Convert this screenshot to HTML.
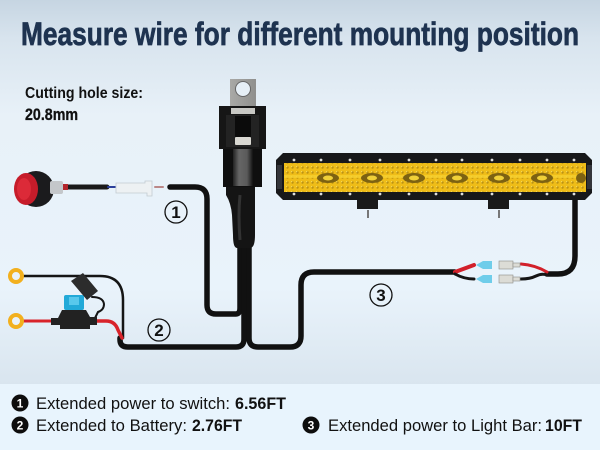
<!DOCTYPE html>
<html><head><meta charset="utf-8"><style>
html,body{margin:0;padding:0;background:#e8f4fd}
svg{display:block}
text{font-family:"Liberation Sans",sans-serif;fill:#111}
</style></head><body>
<svg width="600" height="450" viewBox="0 0 600 450" xmlns="http://www.w3.org/2000/svg">
<defs>
<linearGradient id="bg" x1="0" y1="0" x2="0" y2="1">
<stop offset="0" stop-color="#c6d5e2"/><stop offset=".1" stop-color="#d8e4ee"/><stop offset=".3" stop-color="#e8f1f8"/><stop offset=".75" stop-color="#e9f3fb"/><stop offset="1" stop-color="#d9e5ef"/>
</linearGradient>
<pattern id="dots" width="5" height="5" patternUnits="userSpaceOnUse">
<rect width="5" height="5" fill="#efbd18"/><circle cx="2.5" cy="2.500" r="1.200" fill="#b98f12"/><circle cx="1.700" cy="1.700" r=".6" fill="#fbe46a"/>
</pattern>
<linearGradient id="tab" x1="0" y1="0" x2="1" y2="0"><stop offset="0" stop-color="#a9a9a6"/><stop offset="1" stop-color="#8f8f8d"/></linearGradient>
<linearGradient id="core" x1="0" y1="0" x2="1" y2="0"><stop offset="0" stop-color="#222"/><stop offset=".3" stop-color="#666"/><stop offset=".7" stop-color="#5a5a5a"/><stop offset="1" stop-color="#111"/></linearGradient>
</defs>
<rect width="600" height="385" fill="url(#bg)"/>
<rect y="384" width="600" height="66" fill="#e8f4fd"/>

<text x="21" y="45" font-size="32" font-weight="700" textLength="558" lengthAdjust="spacingAndGlyphs" style="fill:#1e3350;stroke:#1e3350;stroke-width:.7">Measure wire for different mounting position</text>
<text x="25" y="98" font-size="16" font-weight="700" textLength="118" lengthAdjust="spacingAndGlyphs">Cutting hole size:</text>
<text x="25" y="120" font-size="17" font-weight="700" textLength="53" lengthAdjust="spacingAndGlyphs" style="stroke:#111;stroke-width:.3">20.8mm</text>

<!-- wires -->
<g fill="none" stroke-linecap="round">
<path d="M68 187H107" stroke="#1a1a1a" stroke-width="5"/>
<path d="M170 187H195Q207 187 207 199V305Q207 314 216 314H236Q240 314 240 308V240" stroke="#111" stroke-width="5.500"/>
<path d="M120 338V340Q120 347 128 347H236Q244 347 244 339V240" stroke="#111" stroke-width="5.500"/>
<path d="M249 240V338Q249 347 258 347H290Q301 347 301 336V285Q301 272 314 272H455" stroke="#111" stroke-width="5.500"/>
<path d="M547 274H558Q575 274 575 256V198" stroke="#111" stroke-width="5.500"/>
<path d="M24 276H100Q123 276 123 300V338" stroke="#151515" stroke-width="2.500"/>
<path d="M24 321H52" stroke="#d8232a" stroke-width="3"/>
<path d="M96 321H106Q115 321 118 330L122 338" stroke="#d8232a" stroke-width="3.500"/>
<path d="M92 297Q103 297 104 304Q104 310 98 312L95 318" stroke="#151515" stroke-width="2"/>
<path d="M455 272L474 265" stroke="#d2202a" stroke-width="4"/>
<path d="M455 274Q464 279 474 279" stroke="#151515" stroke-width="3"/>
<path d="M521 264Q535 265 547 272" stroke="#d2202a" stroke-width="3"/>
<path d="M521 279Q530 279 536 276T547 275" stroke="#151515" stroke-width="3"/>
<path d="M108 187h7" stroke="#2b3f9a" stroke-width="2"/>
<path d="M155 187h8" stroke="#b88" stroke-width="2"/>
</g>

<!-- switch -->
<circle cx="36" cy="189" r="18" fill="#1b1b1d"/>
<ellipse cx="26" cy="189" rx="12" ry="16" fill="#c61c2a"/>
<ellipse cx="24" cy="189" rx="7" ry="11" fill="#dc2a38"/>
<rect x="50" y="181" width="13" height="13" rx="2" fill="#c4c7ca"/>
<rect x="63" y="184" width="5" height="6" fill="#b3262c"/>

<!-- connector -->
<path d="M116 183H145V181H152V196H147V193H116Z" fill="#edf1f3" stroke="#c2cbd1" stroke-width=".8"/>

<!-- relay -->
<rect x="230" y="79" width="26" height="29" fill="url(#tab)"/>
<circle cx="243" cy="89" r="7.500" fill="#e6eff6" stroke="#666" stroke-width="1"/>
<rect x="219" y="106" width="47" height="43" fill="#161616"/>
<rect x="231" y="108" width="24" height="6" fill="#c8c8c4"/>
<rect x="226" y="115" width="33" height="32" fill="#232323"/>
<rect x="235" y="116" width="16" height="22" fill="#0b0b0b"/>
<rect x="235" y="137" width="16" height="8" rx="1" fill="#d9d8d2"/>
<rect x="223" y="149" width="39" height="38" fill="#0f0f0f"/>
<rect x="233" y="149" width="20" height="37" fill="url(#core)"/>
<path d="M226 187H255L255 235Q255 248 250 248H237Q233 248 233 235L232 215Q231 203 226 195Z" fill="#141414"/>
<path d="M240 195Q238 215 240 240" stroke="#333" stroke-width="3" fill="none"/>

<!-- light bar -->
<path d="M283 153H585L592 160V193L585 200H283L276 193V160Z" fill="#17181a"/>
<rect x="284" y="163" width="302" height="29" fill="url(#dots)"/>
<rect x="284" y="175" width="302" height="3" fill="#f6d030" opacity=".8"/>
<rect x="277" y="165" width="5" height="24" fill="#33353a"/>
<rect x="587" y="165" width="5" height="24" fill="#33353a"/>
<g fill="#7d6212">
<ellipse cx="328" cy="178" rx="11" ry="5"/><ellipse cx="372" cy="178" rx="11" ry="5"/><ellipse cx="414" cy="178" rx="11" ry="5"/><ellipse cx="457" cy="178" rx="11" ry="5"/><ellipse cx="499" cy="178" rx="11" ry="5"/><ellipse cx="542" cy="178" rx="11" ry="5"/><ellipse cx="581" cy="178" rx="5" ry="5"/>
</g>
<g fill="#f0d038">
<ellipse cx="328" cy="178" rx="5" ry="2.500"/><ellipse cx="372" cy="178" rx="5" ry="2.500"/><ellipse cx="414" cy="178" rx="5" ry="2.500"/><ellipse cx="457" cy="178" rx="5" ry="2.500"/><ellipse cx="499" cy="178" rx="5" ry="2.500"/><ellipse cx="542" cy="178" rx="5" ry="2.500"/>
</g>
<g fill="#ddd">
<circle cx="294" cy="160" r="1.400"/><circle cx="321" cy="160" r="1.400"/><circle cx="350" cy="160" r="1.400"/><circle cx="380" cy="160" r="1.400"/><circle cx="409" cy="160" r="1.400"/><circle cx="436" cy="160" r="1.400"/><circle cx="462" cy="160" r="1.400"/><circle cx="492" cy="160" r="1.400"/><circle cx="520" cy="160" r="1.400"/><circle cx="547" cy="160" r="1.400"/><circle cx="574" cy="160" r="1.400"/>
<circle cx="294" cy="194" r="1.400"/><circle cx="321" cy="194" r="1.400"/><circle cx="350" cy="194" r="1.400"/><circle cx="380" cy="194" r="1.400"/><circle cx="409" cy="194" r="1.400"/><circle cx="436" cy="194" r="1.400"/><circle cx="462" cy="194" r="1.400"/><circle cx="492" cy="194" r="1.400"/><circle cx="520" cy="194" r="1.400"/><circle cx="547" cy="194" r="1.400"/><circle cx="574" cy="194" r="1.400"/>
</g>
<rect x="357" y="200" width="21" height="9" fill="#1a1a1a"/>
<rect x="488" y="200" width="21" height="9" fill="#1a1a1a"/>
<rect x="367" y="210" width="2" height="8" fill="#777"/>
<rect x="498" y="210" width="2" height="8" fill="#777"/>

<!-- terminals -->
<g fill="#6fcdea">
<path d="M476 265L483 261H492V269H483Z"/><path d="M476 279L483 275H492V283H483Z"/>
</g>
<g fill="#dcdcd6" stroke="#8d8d88" stroke-width=".6">
<rect x="499" y="261" width="14" height="8"/><rect x="499" y="275" width="14" height="8"/>
<rect x="513" y="263" width="7" height="4"/><rect x="513" y="277" width="7" height="4"/>
</g>

<!-- rings -->
<circle cx="16" cy="276" r="6" fill="#e9f2f9" stroke="#f2b01e" stroke-width="4"/>
<circle cx="16" cy="321" r="6" fill="#e9f2f9" stroke="#f2b01e" stroke-width="4"/>

<!-- fuse -->
<rect x="64" y="295" width="20" height="15" rx="2" fill="#22a9d8"/>
<rect x="69" y="297" width="10" height="8" fill="#58c8ec"/>
<path d="M62 310H86L90 317H97V325H90V329H60V325H51V318H58Z" fill="#222"/>
<path d="M71 281L83 273L98 291L87 300Z" fill="#2c2c2c"/>

<!-- number circles -->
<g fill="none" stroke="#111" stroke-width="1.300">
<circle cx="176" cy="212" r="11"/><circle cx="159" cy="330" r="11"/><circle cx="381" cy="295" r="11"/>
</g>
<g font-size="17" font-weight="700" text-anchor="middle">
<text x="176" y="218">1</text><text x="159" y="336">2</text><text x="381" y="301">3</text>
</g>

<!-- legend -->
<circle cx="20" cy="403" r="8.500" fill="#0d0d0d"/>
<circle cx="20" cy="425" r="8.500" fill="#0d0d0d"/>
<circle cx="311" cy="425" r="8.500" fill="#0d0d0d"/>
<g font-size="12" font-weight="700" text-anchor="middle">
<text x="20" y="407.500" style="fill:#fff">1</text><text x="20" y="429.500" style="fill:#fff">2</text><text x="311" y="429.500" style="fill:#fff">3</text>
</g>
<g font-size="17">
<text x="36" y="409" textLength="194" lengthAdjust="spacingAndGlyphs">Extended power to switch:</text>
<text x="36" y="431" textLength="151" lengthAdjust="spacingAndGlyphs">Extended to Battery:</text>
<text x="328" y="431" textLength="214" lengthAdjust="spacingAndGlyphs">Extended power to Light Bar:</text>
</g>
<g font-size="17" font-weight="700">
<text x="235" y="409" textLength="51" lengthAdjust="spacingAndGlyphs">6.56FT</text>
<text x="192" y="431" textLength="50" lengthAdjust="spacingAndGlyphs">2.76FT</text>
<text x="545" y="431" textLength="37" lengthAdjust="spacingAndGlyphs">10FT</text>
</g>
</svg>
</body></html>
